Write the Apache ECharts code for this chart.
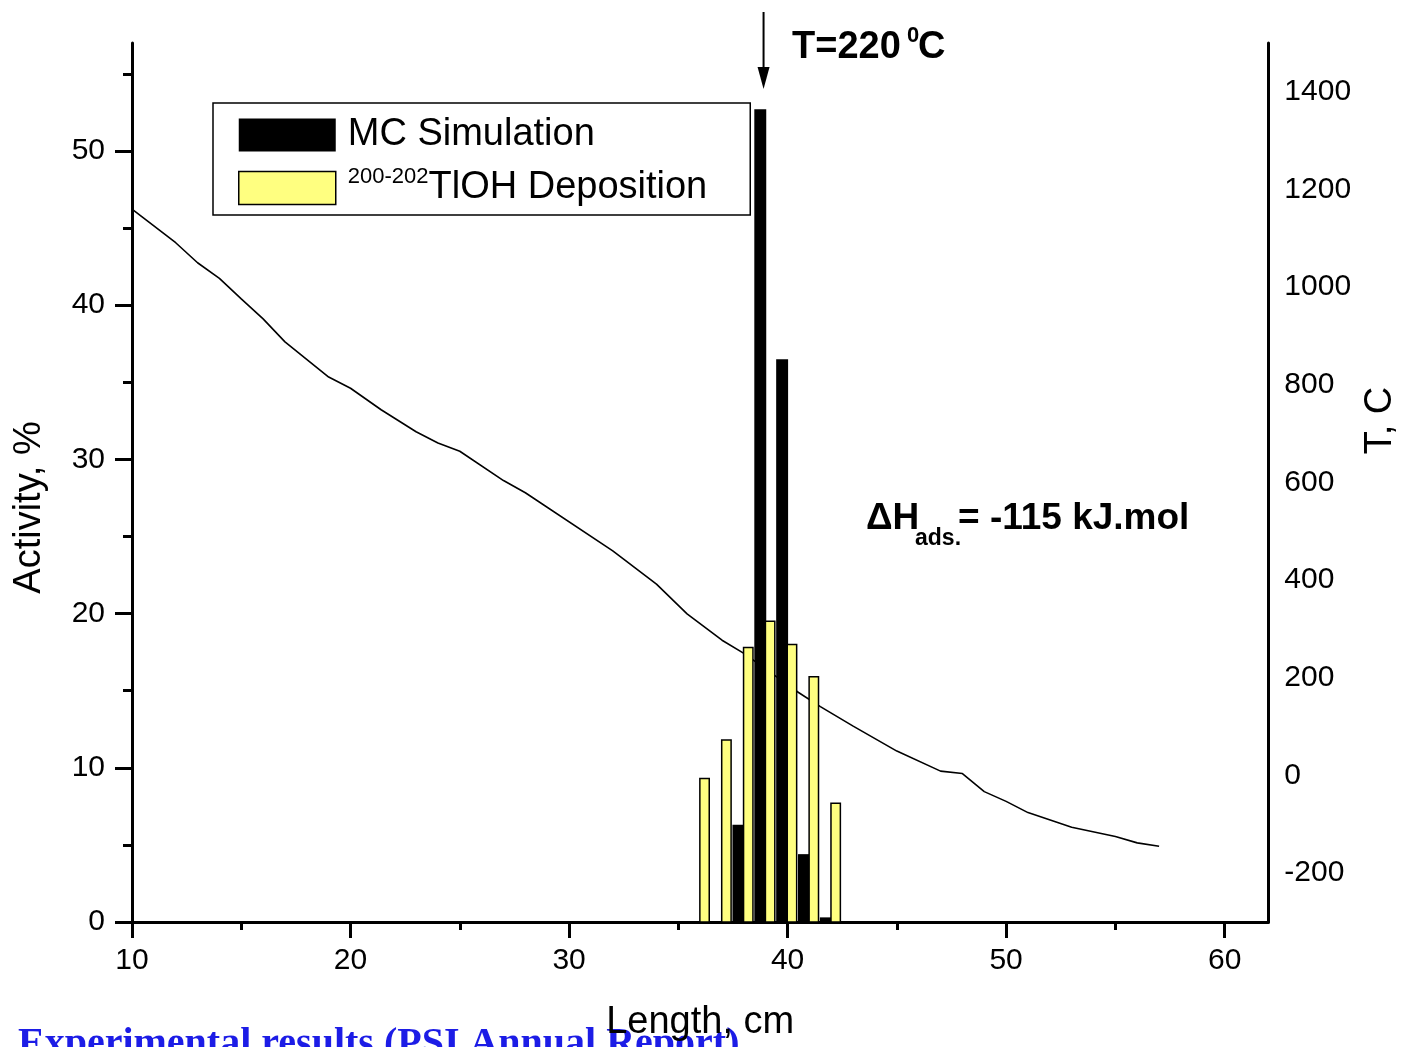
<!DOCTYPE html>
<html><head><meta charset="utf-8">
<script src="https://cdn.jsdelivr.net/npm/echarts@6/dist/echarts.min.js"></script>
<style>html,body{margin:0;padding:0;background:#fff;overflow:hidden}#c{width:1408px;height:1047px}</style>
</head><body><div id="c"></div>
<script>
// ---- data ----
const xTicks = [10, 20, 30, 40, 50, 60];
const xMinorTicks = [15, 25, 35, 45, 55];
const activityTicks = [0, 10, 20, 30, 40, 50];
const activityMinorTicks = [5, 15, 25, 35, 45, 55];
const tempTicks = [-200, 0, 200, 400, 600, 800, 1000, 1200, 1400];

const mcLength = [37.75, 38.75, 39.75, 40.75, 41.75];
const mcActivity = [6.3, 52.7, 36.5, 4.4, 0.3];

const tlLength = [36.2, 37.2, 38.2, 39.2, 40.2, 41.2, 42.2];
const tlActivity = [9.3, 11.8, 17.8, 19.5, 18.0, 15.9, 7.7];

const profileLength = [10, 12, 13, 14, 15, 16, 17, 19, 20, 21.4, 23, 24, 25, 27, 28, 32, 34, 35.4, 37, 38, 39.5, 40.5, 41.5, 43, 45, 47, 48, 49, 50, 51, 53, 55, 56, 57];
const profileTemp = [1160, 1091, 1050, 1018, 976, 935, 888, 816, 793, 749, 704, 681, 664, 604, 579, 460, 392, 331, 277, 250, 202, 170, 141, 101, 50, 9, 4, -33, -53, -76, -106, -125, -138, -145];

const FONT = "'Liberation Sans', Arial, Helvetica, sans-serif";
const SERIF = "'Liberation Serif', 'Times New Roman', serif";

function barRenderer(widthUnits, fill, stroke, lw) {
  return function (params, api) {
    const x = api.value(0), y = api.value(1);
    const top = api.coord([x, y]);
    const base = api.coord([x, 0]);
    const w = api.size([widthUnits, 0])[0];
    return {
      type: 'rect',
      shape: { x: top[0] - w / 2, y: top[1], width: w, height: base[1] - top[1] },
      style: { fill: fill, stroke: stroke, lineWidth: lw }
    };
  };
}

const chart = echarts.init(document.getElementById('c'), null, { renderer: 'canvas', width: 1408, height: 1047 });

const axisLineStyle = { show: true, onZero: false, lineStyle: { color: '#000', width: 3 } };
const plain = function (v) { return String(v); };

const option = {
  backgroundColor: '#fff',
  animation: false,
  textStyle: { fontFamily: FONT },
  grid: { left: 132, right: 134, top: 43, bottom: 120, containLabel: false },
  legend: {
    show: true,
    orient: 'vertical',
    left: 213,
    top: 103,
    padding: [13, 43, 5, 25],
    itemWidth: 97,
    itemHeight: 33,
    itemGap: 4,
    selectedMode: false,
    borderColor: '#000',
    borderWidth: 1.5,
    backgroundColor: '#fff',
    icon: 'rect',
    textStyle: {
      fontFamily: FONT, fontSize: 38, color: '#000', lineHeight: 33,
      padding: [0, 0, 0, 7],
      rich: {
        main: { fontFamily: FONT, fontSize: 38, color: '#000', lineHeight: 33 },
        main2: { fontFamily: FONT, fontSize: 38, color: '#000', lineHeight: 33, padding: [11, 0, 0, 0] },
        sup: { fontFamily: FONT, fontSize: 22, color: '#000', lineHeight: 22, verticalAlign: 'top' }
      }
    },
    formatter: function (name) {
      if (name === 'TlOH Deposition') return '{sup|200-202}{main2|TlOH Deposition}';
      return '{main|' + name + '}';
    },
    data: [
      { name: 'MC Simulation', icon: 'rect', itemStyle: { color: '#000', borderWidth: 0 } },
      { name: 'TlOH Deposition', icon: 'rect', itemStyle: { color: '#FFFF80', borderColor: '#000', borderWidth: 1.5 },
        textStyle: { padding: [0, 0, 11, 7] } }
    ]
  },
  xAxis: [
    {
      type: 'value', min: 10, max: 62, position: 'bottom',
      name: 'Length, cm', nameLocation: 'middle', nameGap: 82,
      nameTextStyle: { fontFamily: FONT, fontSize: 38, color: '#000' },
      axisLine: axisLineStyle,
      axisTick: { show: true, inside: false, length: 16, lineStyle: { color: '#000', width: 3 }, customValues: xTicks },
      axisLabel: { show: true, margin: 24, fontFamily: FONT, fontSize: 30, color: '#000', customValues: xTicks, formatter: plain },
      splitLine: { show: false }
    },
    {
      type: 'value', min: 10, max: 62, position: 'bottom',
      axisLine: { show: false, onZero: false },
      axisTick: { show: true, inside: false, length: 8, lineStyle: { color: '#000', width: 3 }, customValues: xMinorTicks },
      axisLabel: { show: false },
      splitLine: { show: false }
    }
  ],
  yAxis: [
    {
      type: 'value', min: 0, max: 57, position: 'left',
      name: 'Activity, %', nameLocation: 'middle', nameGap: 83,
      nameTextStyle: { fontFamily: FONT, fontSize: 38, color: '#000', padding: [0, 50, 0, 0] },
      axisLine: axisLineStyle,
      axisTick: { show: true, inside: false, length: 17, lineStyle: { color: '#000', width: 3 }, customValues: activityTicks },
      axisLabel: { show: true, margin: 27, fontFamily: FONT, fontSize: 30, color: '#000', customValues: activityTicks, formatter: plain },
      splitLine: { show: false }
    },
    {
      type: 'value', min: -300, max: 1500, position: 'right',
      name: 'T, C', nameLocation: 'middle', nameGap: 88,
      nameTextStyle: { fontFamily: FONT, fontSize: 38, color: '#000', padding: [0, 0, 0, 124] },
      axisLine: axisLineStyle,
      axisTick: { show: false },
      axisLabel: { show: true, margin: 16, fontFamily: FONT, fontSize: 30, color: '#000', customValues: tempTicks, formatter: plain },
      splitLine: { show: false }
    },
    {
      type: 'value', min: 0, max: 57, position: 'left',
      axisLine: { show: false, onZero: false },
      axisTick: { show: true, inside: false, length: 9, lineStyle: { color: '#000', width: 3 }, customValues: activityMinorTicks },
      axisLabel: { show: false },
      splitLine: { show: false }
    }
  ],
  series: [
    {
      name: 'Temperature',
      type: 'line',
      xAxisIndex: 0, yAxisIndex: 1,
      data: profileLength.map((x, i) => [x, profileTemp[i]]),
      showSymbol: false, symbol: 'none',
      lineStyle: { color: '#000', width: 1.6 },
      itemStyle: { color: '#000' },
      z: 1
    },
    {
      name: 'MC Simulation',
      type: 'custom',
      xAxisIndex: 0, yAxisIndex: 0,
      encode: { x: 0, y: 1 },
      data: mcLength.map((x, i) => [x, mcActivity[i]]),
      itemStyle: { color: '#000' },
      renderItem: barRenderer(0.546, '#000', null, 0),
      z: 2
    },
    {
      name: 'TlOH Deposition',
      type: 'custom',
      xAxisIndex: 0, yAxisIndex: 0,
      encode: { x: 0, y: 1 },
      data: tlLength.map((x, i) => [x, tlActivity[i]]),
      itemStyle: { color: '#FFFF80', borderColor: '#000', borderWidth: 1.5 },
      renderItem: barRenderer(0.43, '#FFFF80', '#000', 1.5),
      z: 3
    }
  ]
};

chart.setOption(option);

const arrowX = chart.convertToPixel({ xAxisIndex: 0 }, 38.9);
const boldA = { fontFamily: FONT, fontWeight: 'bold', fill: '#000' };
chart.setOption({
  graphic: [
    { type: 'line', shape: { x1: arrowX, y1: 12, x2: arrowX, y2: 72 }, style: { stroke: '#000', lineWidth: 2 }, z: 10 },
    { type: 'polygon', shape: { points: [[arrowX - 6, 67], [arrowX + 6, 67], [arrowX, 89]] }, style: { fill: '#000' }, z: 10 },
    { type: 'text', x: 792, y: 29, z: 10, style: Object.assign({ text: 'T=220', fontSize: 38 }, boldA) },
    { type: 'text', x: 907, y: 25, z: 10, style: Object.assign({ text: '0', fontSize: 22 }, boldA) },
    { type: 'text', x: 918, y: 29, z: 10, style: Object.assign({ text: 'C', fontSize: 38 }, boldA) },
    { type: 'text', x: 866, y: 500, z: 10, style: Object.assign({ text: 'ΔH', fontSize: 37 }, boldA) },
    { type: 'text', x: 915, y: 527, z: 10, style: Object.assign({ text: 'ads.', fontSize: 23 }, boldA) },
    { type: 'text', x: 958, y: 500, z: 10, style: Object.assign({ text: '= -115 kJ.mol', fontSize: 37 }, boldA) },
    { type: 'text', x: 18, y: 1025, z: 0, style: { text: 'Experimental results (PSI Annual Report)', fontFamily: SERIF, fontWeight: 'bold', fontSize: 40, fill: '#1c1ce6' } }
  ]
});
</script>
</body></html>
